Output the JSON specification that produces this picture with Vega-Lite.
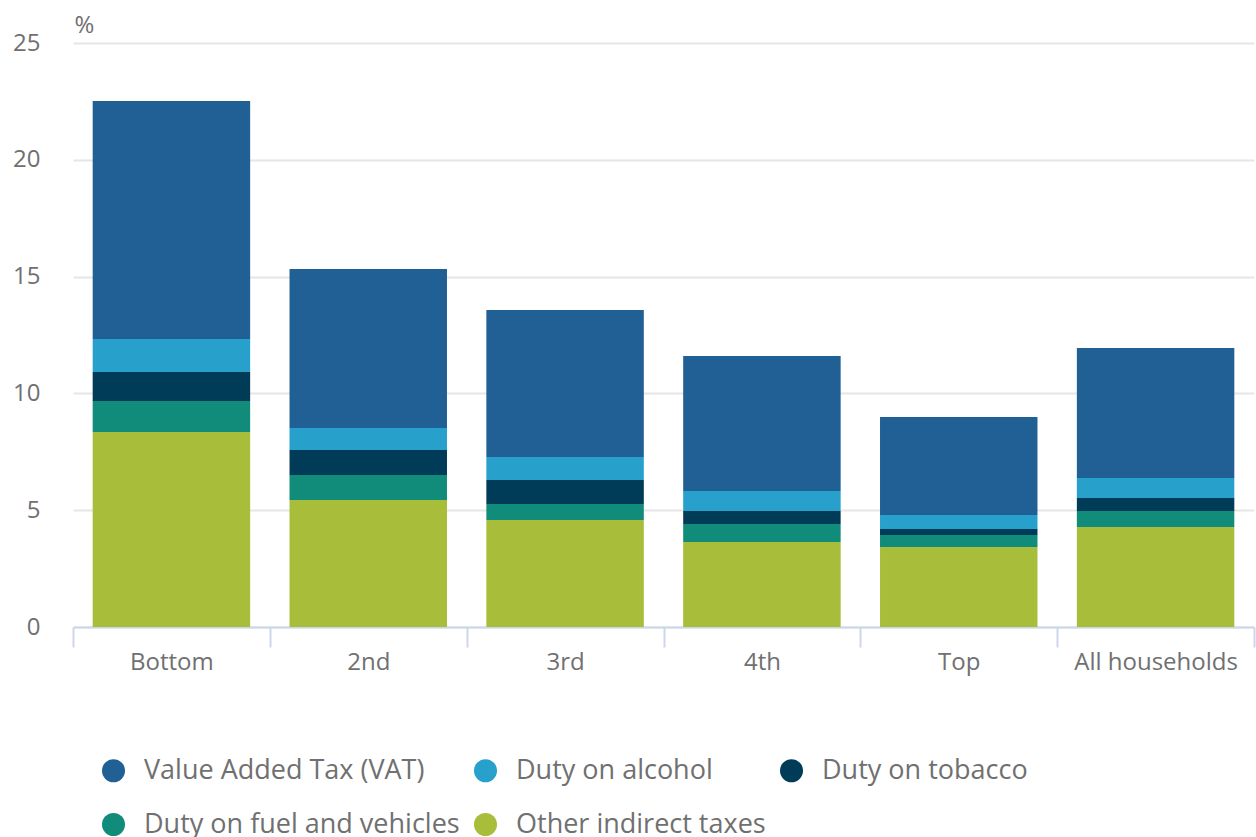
{
  "$schema": "https://vega.github.io/schema/vega-lite/v6.json",
  "width": 1181,
  "height": 584,
  "autosize": {"type": "none"},
  "padding": {"left": 73, "top": 43, "right": 2, "bottom": 210},
  "background": "white",
  "config": {
    "font": "Open Sans",
    "view": {"stroke": null},
    "axis": {"labelFont": "Open Sans", "titleFont": "Open Sans"},
    "legend": {"labelFont": "Open Sans"}
  },
  "data": {
    "values": [
      {"group": "Bottom", "tax": "Value Added Tax (VAT)", "value": 10.19, "ord": 5},
      {"group": "Bottom", "tax": "Duty on alcohol", "value": 1.41, "ord": 4},
      {"group": "Bottom", "tax": "Duty on tobacco", "value": 1.25, "ord": 3},
      {"group": "Bottom", "tax": "Duty on fuel and vehicles", "value": 1.32, "ord": 2},
      {"group": "Bottom", "tax": "Other indirect taxes", "value": 8.35, "ord": 1},
      {"group": "2nd", "tax": "Value Added Tax (VAT)", "value": 6.81, "ord": 5},
      {"group": "2nd", "tax": "Duty on alcohol", "value": 0.94, "ord": 4},
      {"group": "2nd", "tax": "Duty on tobacco", "value": 1.07, "ord": 3},
      {"group": "2nd", "tax": "Duty on fuel and vehicles", "value": 1.07, "ord": 2},
      {"group": "2nd", "tax": "Other indirect taxes", "value": 5.44, "ord": 1},
      {"group": "3rd", "tax": "Value Added Tax (VAT)", "value": 6.29, "ord": 5},
      {"group": "3rd", "tax": "Duty on alcohol", "value": 0.99, "ord": 4},
      {"group": "3rd", "tax": "Duty on tobacco", "value": 1.02, "ord": 3},
      {"group": "3rd", "tax": "Duty on fuel and vehicles", "value": 0.69, "ord": 2},
      {"group": "3rd", "tax": "Other indirect taxes", "value": 4.58, "ord": 1},
      {"group": "4th", "tax": "Value Added Tax (VAT)", "value": 5.78, "ord": 5},
      {"group": "4th", "tax": "Duty on alcohol", "value": 0.85, "ord": 4},
      {"group": "4th", "tax": "Duty on tobacco", "value": 0.56, "ord": 3},
      {"group": "4th", "tax": "Duty on fuel and vehicles", "value": 0.77, "ord": 2},
      {"group": "4th", "tax": "Other indirect taxes", "value": 3.64, "ord": 1},
      {"group": "Top", "tax": "Value Added Tax (VAT)", "value": 4.2, "ord": 5},
      {"group": "Top", "tax": "Duty on alcohol", "value": 0.59, "ord": 4},
      {"group": "Top", "tax": "Duty on tobacco", "value": 0.26, "ord": 3},
      {"group": "Top", "tax": "Duty on fuel and vehicles", "value": 0.52, "ord": 2},
      {"group": "Top", "tax": "Other indirect taxes", "value": 3.42, "ord": 1},
      {"group": "All households", "tax": "Value Added Tax (VAT)", "value": 5.56, "ord": 5},
      {"group": "All households", "tax": "Duty on alcohol", "value": 0.86, "ord": 4},
      {"group": "All households", "tax": "Duty on tobacco", "value": 0.55, "ord": 3},
      {"group": "All households", "tax": "Duty on fuel and vehicles", "value": 0.69, "ord": 2},
      {"group": "All households", "tax": "Other indirect taxes", "value": 4.28, "ord": 1}
    ]
  },
  "mark": {"type": "bar", "width": {"band": 0.8}},
  "encoding": {
    "x": {
      "field": "group",
      "type": "nominal",
      "sort": ["Bottom", "2nd", "3rd", "4th", "Top", "All households"],
      "scale": {"paddingInner": 0, "paddingOuter": 0},
      "axis": {
        "title": null,
        "labelAngle": 0,
        "labelFontSize": 24,
        "labelColor": "#707070",
        "labelPadding": 3,
        "domainColor": "#ccd6ea",
        "domainWidth": 2,
        "tickColor": "#ccd6ea",
        "tickWidth": 2,
        "tickSize": 20,
        "tickBand": "extent",
        "grid": false
      }
    },
    "y": {
      "field": "value",
      "type": "quantitative",
      "stack": "zero",
      "scale": {"domain": [0, 25], "nice": false},
      "axis": {
        "title": "%",
        "titleAngle": 0,
        "titleX": 1,
        "titleY": -6,
        "titleAlign": "left",
        "titleBaseline": "bottom",
        "titleFontSize": 24,
        "titleFontWeight": "normal",
        "titleColor": "#707070",
        "values": [0, 5, 10, 15, 20, 25],
        "labelFontSize": 24,
        "labelColor": "#707070",
        "labelPadding": 33,
        "ticks": false,
        "domain": false,
        "gridColor": "#e6e6e6",
        "gridWidth": 2
      }
    },
    "color": {
      "field": "tax",
      "type": "nominal",
      "scale": {
        "domain": ["Value Added Tax (VAT)", "Duty on alcohol", "Duty on tobacco", "Duty on fuel and vehicles", "Other indirect taxes"],
        "range": ["#206095", "#27a0cc", "#003c57", "#118c7b", "#a8bd3a"]
      },
      "legend": {
        "title": null,
        "orient": "none",
        "legendX": 27,
        "legendY": 714,
        "direction": "horizontal",
        "columns": 3,
        "symbolType": "circle",
        "symbolSize": 530,
        "symbolStrokeWidth": 0,
        "labelFontSize": 27,
        "labelLimit": 500,
        "labelColor": "#707070",
        "labelOffset": 17,
        "columnPadding": 12,
        "rowPadding": 26
      }
    },
    "order": {"field": "ord", "type": "quantitative"}
  }
}
